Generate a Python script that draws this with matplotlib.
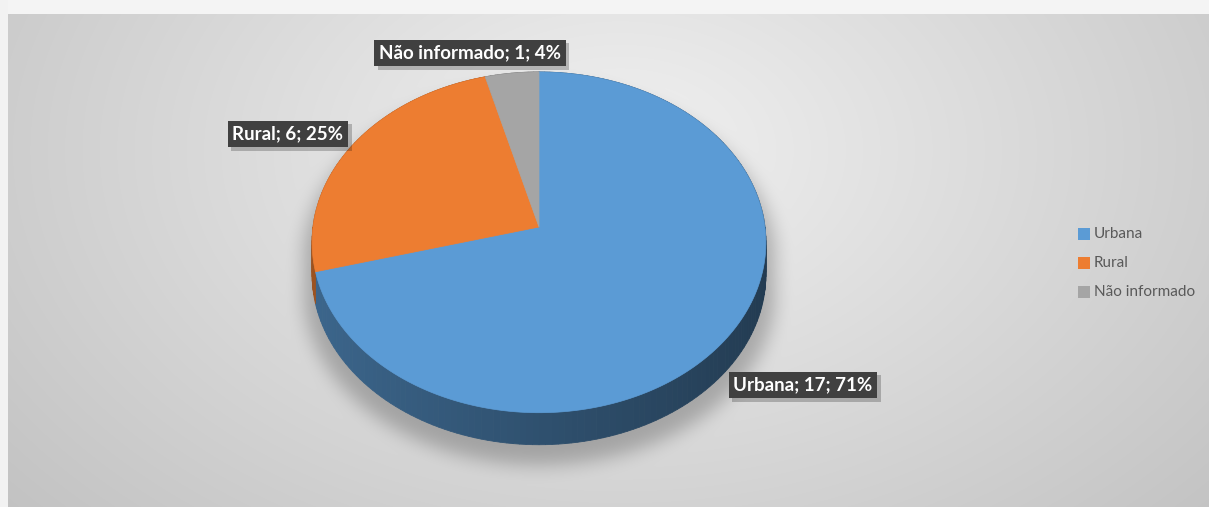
import numpy as np
import matplotlib
matplotlib.use("Agg")
import matplotlib.pyplot as plt
import matplotlib.patheffects as pe
from matplotlib.path import Path
from matplotlib.patches import Polygon, Rectangle

# dados
categorias = ["Urbana", "Rural", "Não informado"]
valores = [17, 6, 1]
cores = ["#5b9bd5", "#ed7d31", "#a5a5a5"]
rotulos = ["Urbana; 17; 71%", "Rural; 6; 25%", "Não informado; 1; 4%"]
pos_rotulos = [(803, 385), (288, 134), (470, 53)]

W, H = 1209, 507
plt.rcParams['font.family'] = ['Lato', 'DejaVu Sans']

fig = plt.figure(figsize=(W / 100, H / 100), dpi=100)
ax = fig.add_axes([0, 0, 1, 1])
ax.set_xlim(0, W)
ax.set_ylim(H, 0)
ax.axis("off")

# geometria da pizza 3D (perspectiva simples)
cx, cy, a, b, p, prof = 539, 227, 226, 169, 0.09, 32


def proj(theta, dz=0.0):
    t = np.radians(theta)
    u, v = np.sin(t), np.cos(t)
    den = 1 + p * v
    return cx + a * u / den, cy - b * v / den + dz


# fundo com gradiente + sombra borrada
yy, xx = np.mgrid[0:H, 0:W]
d = np.sqrt(((xx - 620) / 620.0) ** 2 + ((yy - 150) / 420.0) ** 2)
fundo = 0.945 - 0.14 * d

ang = np.linspace(0, 360, 361)
tx, ty = proj(ang)
sx = cx + (tx - cx) * 1.04
sy = cy + (ty - cy) * 1.02 + 16
pontos = np.c_[xx.ravel(), yy.ravel()]
m1 = Path(np.c_[sx, sy]).contains_points(pontos)
m2 = Path(np.c_[sx, sy + prof]).contains_points(pontos)
mask = (m1 | m2).reshape(H, W).astype(float)
k = np.ones(21) / 21.0
for _ in range(2):
    mask = np.apply_along_axis(lambda r: np.convolve(r, k, mode="same"), 1, mask)
    mask = np.apply_along_axis(lambda r: np.convolve(r, k, mode="same"), 0, mask)
fundo = fundo * (1 - 0.24 * mask)

# moldura externa clara
img = np.dstack([fundo] * 3)
img[:14, :, :] = 0.96
img[:, :8, :] = 0.95
ax.imshow(img, extent=(0, W, H, 0), aspect="auto", zorder=0, interpolation="bilinear")

# ângulos das fatias (sentido horário a partir do topo)
total = sum(valores)
limites = np.concatenate([[0], np.cumsum(valores) / total * 360])

# lateral
for i, cor in enumerate(cores):
    rgb = np.array(matplotlib.colors.to_rgb(cor))
    t0, t1 = limites[i], limites[i + 1]
    passos = np.linspace(t0, t1, max(int((t1 - t0) / 1.5), 2) + 1)
    for s0, s1 in zip(passos[:-1], passos[1:]):
        xa, ya = proj(s0)
        xb, yb = proj(s1)
        sombra = 0.52 - 0.14 * np.sin(np.radians((s0 + s1) / 2))
        ax.add_patch(Polygon([(xa, ya), (xb, yb), (xb, yb + prof), (xa, ya + prof)],
                             closed=True, fc=rgb * sombra, ec=rgb * sombra, lw=0.6, zorder=2))

# topo
for i, cor in enumerate(cores):
    t = np.linspace(limites[i], limites[i + 1], 200)
    px, py = proj(t)
    pts = np.vstack([[cx, cy], np.c_[px, py]])
    ax.add_patch(Polygon(pts, closed=True, fc=cor, ec=cor, lw=0.5, zorder=3))

# rótulos de dados
for txt, (x, y) in zip(rotulos, pos_rotulos):
    t = ax.text(x, y, txt, ha="center", va="center", fontsize=13.5, weight="bold",
                color="white", zorder=5,
                bbox=dict(boxstyle="square,pad=0.25", fc="#404040", ec="none"))
    t.get_bbox_patch().set_path_effects(
        [pe.SimplePatchShadow(offset=(2.5, -2.5), shadow_rgbFace="black", alpha=0.22), pe.Normal()])

# legenda
for i, (cat, cor) in enumerate(zip(categorias, cores)):
    y = 234 + i * 29
    ax.add_patch(Rectangle((1078, y - 6), 12, 12, fc=cor, ec="none", zorder=5))
    ax.text(1094, y, cat, ha="left", va="center", fontsize=11, color="#595959", zorder=5)

fig.savefig("out.png", dpi=100)
